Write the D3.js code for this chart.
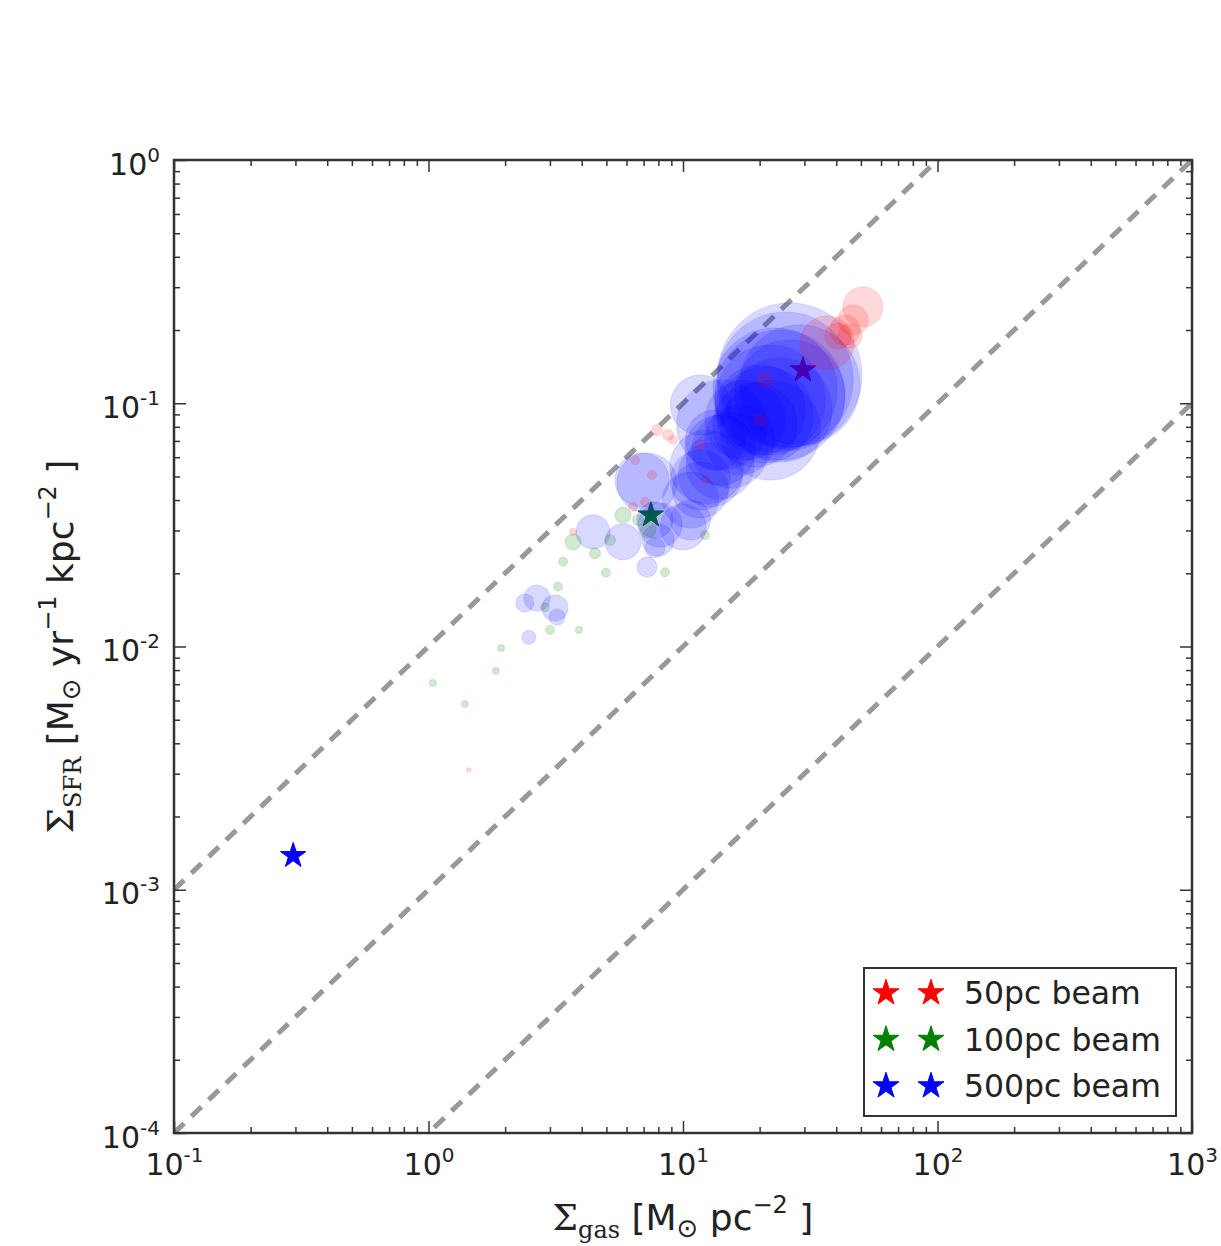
<!DOCTYPE html>
<html lang="en">
<head>
<meta charset="UTF-8" />
<title>Sigma SFR vs Sigma gas by beam size</title>
<style>
  body { margin: 0; background: #fff; }
  svg { display: block; font-family: "DejaVu Sans", sans-serif; }
</style>
</head>
<body>
<svg id="chart"></svg>
<script src="https://cdn.jsdelivr.net/npm/d3@7"></script>
<script>
// 50pc beam (red)
const red50Gas  = [50.9, 46.6, 43.3, 40.6, 36.8, 45.3, 7.90, 8.73, 9.14, 6.48, 7.55, 7.09, 6.36, 3.70, 1.44, 11.7, 12.2, 21.0, 20.1];
const red50Sfr  = [0.249, 0.220, 0.200, 0.189, 0.177, 0.189, 0.0776, 0.0741, 0.0706, 0.0584, 0.0507, 0.0393, 0.0375, 0.0296, 0.00311, 0.0674, 0.0484, 0.1246, 0.0853];
const red50Size = [400, 225, 225, 169, 729, 144, 30, 30, 20, 20, 20, 20, 20, 12, 5, 25, 16, 64, 36];

// 100pc beam (green)
const green100Gas  = [3.38, 3.23, 3.00, 3.90, 1.93, 1.84, 1.04, 1.39, 4.98, 4.51, 3.70, 5.81, 8.50, 12.2, 7.29, 6.66, 2.87, 5.17];
const green100Sfr  = [0.0223, 0.0176, 0.0117, 0.0117, 0.00986, 0.00793, 0.00708, 0.00580, 0.0201, 0.0242, 0.0269, 0.0347, 0.0202, 0.0287, 0.0301, 0.0331, 0.0145, 0.0274];
const green100Size = [20, 20, 20, 12, 12, 12, 12, 12, 20, 30, 64, 64, 20, 20, 64, 30, 20, 30];

// 500pc beam (blue)
const blue500Gas = [26.3, 24.0, 22.0, 28.8, 20.1, 17.5, 22.0, 23.0, 25.2, 21.0, 19.2, 26.3, 24.0, 14.2, 16.7, 15.3, 14.0, 12.8, 11.7, 12.4,
                    14.0, 11.7, 10.7, 13.4, 11.7, 7.22, 6.90, 10.7, 10.0, 4.43, 5.81, 7.76, 7.98, 7.22, 2.67, 2.39, 3.14, 3.20, 2.48, 8.12, 7.76];
const blue500Sfr = [0.1306, 0.1081, 0.1031, 0.1189, 0.0938, 0.0853, 0.0776, 0.1133, 0.1246, 0.0895, 0.0814, 0.1081, 0.0938, 0.0814, 0.0706, 0.0642, 0.0557, 0.0507, 0.0440, 0.0547,
                    0.0642, 0.0484, 0.0400, 0.0706, 0.0984, 0.0470, 0.0484, 0.0331, 0.0310, 0.0296, 0.0269, 0.0254, 0.0274, 0.0212, 0.0158, 0.0151, 0.0144, 0.0132, 0.0109, 0.0316, 0.0331];
const blue500Size = [5184, 4225, 3025, 3600, 2025, 1600, 2500, 3844, 4624, 2304, 1764, 3025, 2704, 2025, 1225, 1444, 1156, 1024, 784, 1369,
                     1225, 900, 784, 900, 900, 900, 729, 400, 529, 289, 324, 100, 256, 100, 169, 81, 169, 64, 49, 484, 324];

// mean values per beam (stars): 50pc, 100pc, 500pc
const starGas = [29.6, 7.48, 0.294];
const starSfr = [0.137, 0.0347, 0.00138];

const beamLabels = ["50pc beam", "100pc beam", "500pc beam"];
const beamColors = ["#ff0000", "#008000", "#0000ff"];

// constant depletion lines: Sigma_SFR = c * Sigma_gas
const depletionCoef = [1e-2, 1e-3, 1e-4];

const xMajor = [0.1, 1, 10, 100, 1000];
const yMajor = [1e-4, 1e-3, 1e-2, 1e-1, 1];

const width = 1221, height = 1246;
const x = d3.scaleLog().domain([0.1, 1000]).range([174, 1192]);
const y = d3.scaleLog().domain([1e-4, 1]).range([1133, 160]);
const r = d3.scaleSqrt().domain([0, 100]).range([0, 10]);

const svg = d3.select("#chart").attr("width", width).attr("height", height);

svg.append("clipPath").attr("id", "plot")
  .append("rect")
  .attr("x", x.range()[0]).attr("y", y.range()[1])
  .attr("width", x.range()[1] - x.range()[0])
  .attr("height", y.range()[0] - y.range()[1]);

const plot = svg.append("g").attr("clip-path", "url(#plot)");

// dashed lines
const lineGen = d3.line().x(d => x(d[0])).y(d => y(d[1]));
plot.selectAll("path.dep")
  .data(depletionCoef)
  .join("path")
  .attr("class", "dep")
  .attr("d", c => lineGen(xMajor.map(v => [v, v * c])))
  .attr("fill", "none")
  .attr("stroke", "#999")
  .attr("stroke-width", 5)
  .attr("stroke-dasharray", "14 10");

// stars sit beneath the clouds
const star = d3.symbol().type(d3.symbolStar);
plot.selectAll("path.star")
  .data(starGas.map((g, i) => ({ g, s: starSfr[i], c: beamColors[i] })))
  .join("path")
  .attr("class", "star")
  .attr("transform", d => `translate(${x(d.g)},${y(d.s)})`)
  .attr("d", star.size(200))
  .attr("fill", d => d.c)
  .attr("stroke", d => d.c)
  .attr("stroke-width", 1);

const series = [
  { gas: blue500Gas, sfr: blue500Sfr, size: blue500Size, color: beamColors[2], alpha: 0.15 },
  { gas: green100Gas, sfr: green100Sfr, size: green100Size, color: beamColors[1], alpha: 0.18 },
  { gas: red50Gas, sfr: red50Sfr, size: red50Size, color: beamColors[0], alpha: 0.15 }
];

series.forEach(s => {
  plot.append("g")
    .selectAll("circle")
    .data(s.gas.map((g, i) => ({ g, f: s.sfr[i], a: s.size[i] })))
    .join("circle")
    .attr("cx", d => x(d.g))
    .attr("cy", d => y(d.f))
    .attr("r", d => r(d.a))
    .attr("fill", s.color)
    .attr("fill-opacity", s.alpha)
    .attr("stroke", s.color)
    .attr("stroke-opacity", s.alpha * 0.7)
    .attr("stroke-width", 1.2);
});

// axes (ticks inward on all four sides)
function expLabels(g, superDy) {
  g.selectAll(".tick text").each(function(d) {
    const t = d3.select(this).text(null);
    t.append("tspan").text("10");
    t.append("tspan").attr("dy", superDy).attr("font-size", 20).text(String(Math.round(Math.log10(d))));
  });
}
function styleAxis(g) {
  g.select(".domain").remove();
  g.selectAll(".tick line").attr("stroke", "#333").attr("stroke-width", 1.5);
  g.attr("font-family", "DejaVu Sans").attr("font-size", 30).attr("fill", "#222");
  g.selectAll(".tick text").attr("fill", "#222");
}
const xMinor = x.ticks().filter(v => !xMajor.some(m => Math.abs(m - v) / m < 1e-6));
const yMinor = y.ticks().filter(v => !yMajor.some(m => Math.abs(m - v) / m < 1e-6));

const [x0, x1] = x.range();
const [y0, y1] = y.range();

svg.append("g").attr("transform", `translate(0,${y0})`)
  .call(d3.axisBottom(x).tickValues(xMajor).tickSize(-12).tickSizeOuter(0).tickFormat(d => d))
  .call(styleAxis)
  .call(g => g.selectAll(".tick text").attr("y", 42).attr("dy", 0))
  .call(g => expLabels(g, -13));
svg.append("g").attr("transform", `translate(0,${y0})`)
  .call(d3.axisBottom(x).tickValues(xMinor).tickSize(-6).tickFormat(""))
  .call(styleAxis);
svg.append("g").attr("transform", `translate(0,${y1})`)
  .call(d3.axisTop(x).tickValues(xMajor).tickSize(-12).tickFormat(""))
  .call(styleAxis);
svg.append("g").attr("transform", `translate(0,${y1})`)
  .call(d3.axisTop(x).tickValues(xMinor).tickSize(-6).tickFormat(""))
  .call(styleAxis);

svg.append("g").attr("transform", `translate(${x0},0)`)
  .call(d3.axisLeft(y).tickValues(yMajor).tickSize(-12).tickFormat(d => d))
  .call(styleAxis)
  .call(g => g.selectAll(".tick text").attr("x", -14).attr("dy", 14))
  .call(g => expLabels(g, -13));
svg.append("g").attr("transform", `translate(${x0},0)`)
  .call(d3.axisLeft(y).tickValues(yMinor).tickSize(-6).tickFormat(""))
  .call(styleAxis);
svg.append("g").attr("transform", `translate(${x1},0)`)
  .call(d3.axisRight(y).tickValues(yMajor).tickSize(-12).tickFormat(""))
  .call(styleAxis);
svg.append("g").attr("transform", `translate(${x1},0)`)
  .call(d3.axisRight(y).tickValues(yMinor).tickSize(-6).tickFormat(""))
  .call(styleAxis);

// frame
svg.append("rect")
  .attr("x", x0).attr("y", y1)
  .attr("width", x1 - x0).attr("height", y0 - y1)
  .attr("fill", "none").attr("stroke", "#333").attr("stroke-width", 2.5);

// axis titles
const serif = "'DejaVu Serif', 'Liberation Serif', serif";
const xt = svg.append("text")
  .attr("x", (x0 + x1) / 2).attr("y", 1230)
  .attr("text-anchor", "middle").attr("font-size", 36).attr("fill", "#222");
xt.append("tspan").attr("font-family", serif).text("Σ");
xt.append("tspan").attr("font-family", serif).attr("font-size", 24).attr("dy", 8).text("gas");
xt.append("tspan").attr("dy", -8).text(" [M");
xt.append("tspan").attr("font-size", 26).attr("dy", 7).text("⊙");
xt.append("tspan").attr("dy", -7).text(" pc");
xt.append("tspan").attr("font-size", 24).attr("dy", -17).text("−2");
xt.append("tspan").attr("dy", 17).text(" ]");

const yt = svg.append("text")
  .attr("transform", `translate(73,${(y0 + y1) / 2}) rotate(-90)`)
  .attr("text-anchor", "middle").attr("font-size", 36).attr("fill", "#222");
yt.append("tspan").attr("font-family", serif).text("Σ");
yt.append("tspan").attr("font-family", serif).attr("font-size", 24).attr("dy", 8).text("SFR");
yt.append("tspan").attr("dy", -8).text(" [M");
yt.append("tspan").attr("font-size", 26).attr("dy", 7).text("⊙");
yt.append("tspan").attr("dy", -7).text(" yr");
yt.append("tspan").attr("font-size", 24).attr("dy", -17).text("−1");
yt.append("tspan").attr("dy", 17).text(" kpc");
yt.append("tspan").attr("font-size", 24).attr("dy", -17).text("−2");
yt.append("tspan").attr("dy", 17).text(" ]");

// legend
const legend = svg.append("g").attr("transform", "translate(864,968)");
legend.append("rect")
  .attr("width", 312).attr("height", 148)
  .attr("fill", "#fff").attr("stroke", "#333").attr("stroke-width", 2);
const rows = legend.selectAll("g.row")
  .data(beamLabels)
  .join("g")
  .attr("class", "row")
  .attr("transform", (d, i) => `translate(0,${25 + i * 46.5})`);
[22, 67].forEach(cx => {
  rows.append("path")
    .attr("transform", `translate(${cx},0)`)
    .attr("d", star.size(210))
    .attr("fill", (d, i) => beamColors[i])
    .attr("stroke", (d, i) => beamColors[i]);
});
rows.append("text")
  .attr("x", 100).attr("dy", "0.36em")
  .attr("font-size", 31.5).attr("fill", "#222")
  .text(d => d);
</script>
</body>
</html>
